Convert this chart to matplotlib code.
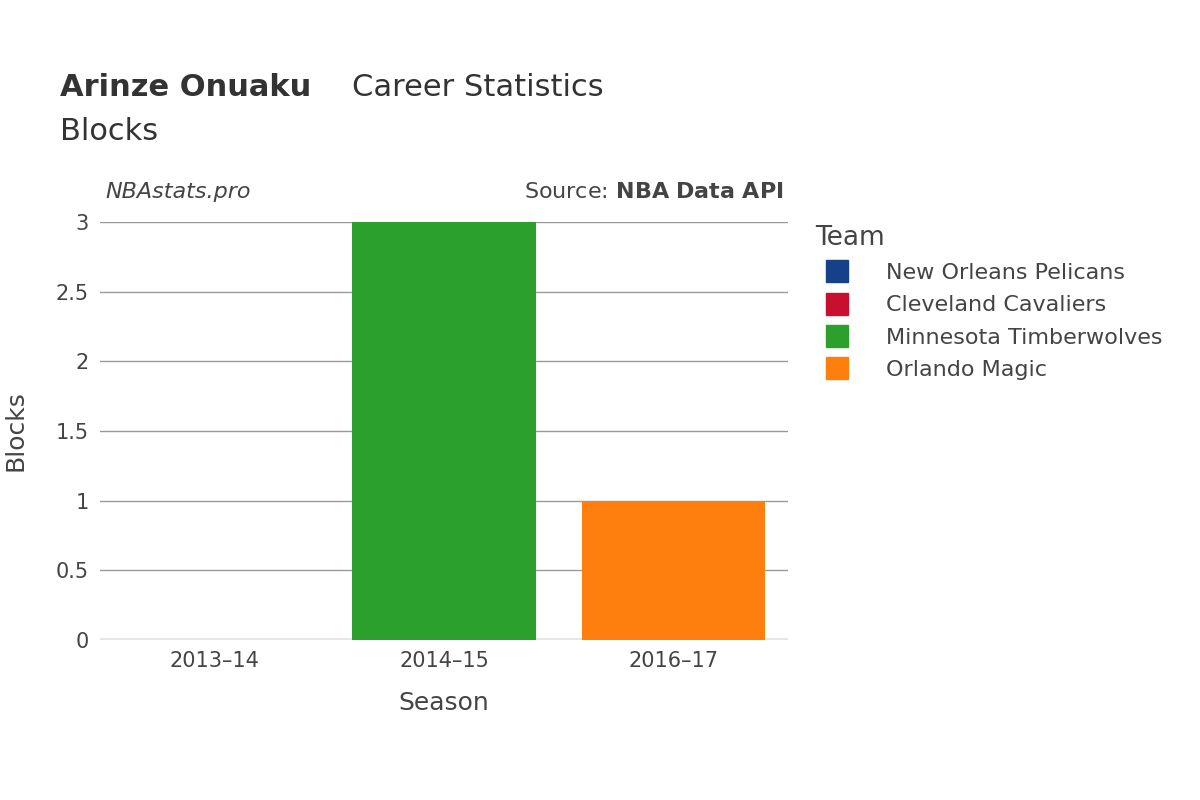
import matplotlib
matplotlib.use("Agg")
import matplotlib.pyplot as plt
from matplotlib.lines import Line2D

seasons = ["2013–14", "2014–15", "2016–17"]
blocks = [0, 3, 1]
bar_teams = ["Cleveland Cavaliers", "Minnesota Timberwolves", "Orlando Magic"]
teams = ["New Orleans Pelicans", "Cleveland Cavaliers", "Minnesota Timberwolves", "Orlando Magic"]
team_colors = {"New Orleans Pelicans": "#17408b", "Cleveland Cavaliers": "#c8102e",
               "Minnesota Timberwolves": "#2ca02c", "Orlando Magic": "#ff7f0e"}
yticks = [0, 0.5, 1, 1.5, 2, 2.5, 3]

fig = plt.figure(figsize=(12, 8), dpi=100)
ax = fig.add_axes([100/1200, 1-640/800, 688/1200, 418/800])
x = list(range(len(seasons)))
ax.bar(x, blocks, width=0.8, color=[team_colors[t] for t in bar_teams], zorder=3)
ax.set_xlim(-0.5, 2.5)
ax.set_ylim(0, 3)
ax.set_yticks(yticks)
ax.set_yticklabels(["0", "0.5", "1", "1.5", "2", "2.5", "3"])
ax.set_xticks(x)
ax.set_xticklabels(seasons)
ax.grid(axis="y", color="#999999", linewidth=1, zorder=0)
ax.axhline(0, color="#e6e6e6", linewidth=3, zorder=2)
for s in ax.spines.values():
    s.set_visible(False)
ax.tick_params(length=0, labelsize=15, colors="#444444", pad=8)
ax.set_xlabel("Season", fontsize=18, color="#444444", labelpad=14)
ax.set_ylabel("Blocks", fontsize=18, color="#444444", labelpad=20)

fig.text(60/1200, 1-88/800, "Arinze Onuaku", fontsize=22, fontweight="bold", color="#333333", va="center")
fig.text(352/1200, 1-88/800, "Career Statistics", fontsize=22, color="#333333", va="center")
fig.text(60/1200, 1-132/800, "Blocks", fontsize=22, color="#333333", va="center")
fig.text(105/1200, 1-192/800, "NBAstats.pro", fontsize=16, style="italic", color="#444444", va="center")
fig.text(784/1200, 1-192/800, r"Source: $\bf{NBA\ Data\ API}$", fontsize=16, color="#444444", va="center", ha="right")

handles = [Line2D([], [], marker="s", linestyle="", markersize=16, color=team_colors[t]) for t in teams]
leg = fig.legend(handles, teams, title="Team", loc="upper left", bbox_to_anchor=(795/1200, 1-205/800),
                 frameon=False, fontsize=16, title_fontsize=19, labelspacing=0.55, handletextpad=1.2,
                 labelcolor="#444444")
leg.get_title().set_color("#444444")
leg._legend_box.align = "left"
fig.savefig("out.png", dpi=100, facecolor="white")
